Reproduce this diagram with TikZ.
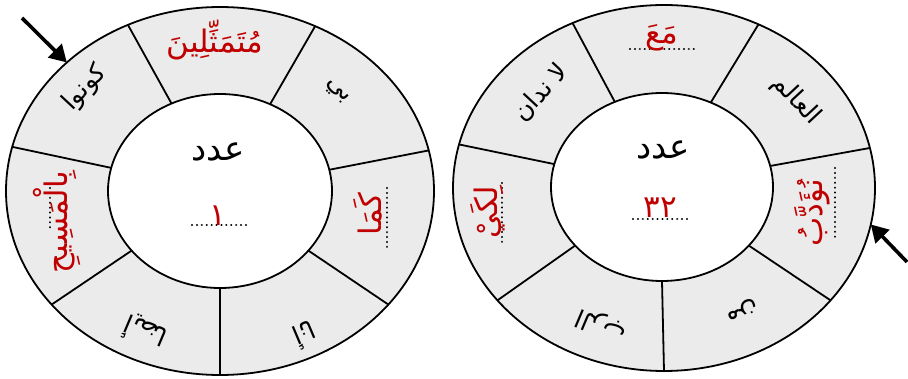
\documentclass[tikz,border=0pt]{standalone}
\usepackage{fontspec}
\newfontfamily\arabicfont[Script=Arabic]{DejaVu Sans}
\TeXXeTstate=1
\usetikzlibrary{arrows.meta,shapes.geometric,positioning}
\definecolor{answerred}{RGB}{192,0,0}
\definecolor{ringfill}{RGB}{235,235,235}
\newcommand{\rtl}[1]{\beginR #1\endR}

\begin{document}
\begin{tikzpicture}[x=1pt,y=-1pt,
  outring/.style={ellipse,draw,line width=1.8pt,fill=ringfill,inner sep=0pt,outer sep=0pt},
  inring/.style={ellipse,draw,line width=1.8pt,fill=white,inner sep=0pt,outer sep=0pt},
  word/.style={font=\arabicfont\fontsize{25}{28}\selectfont,inner sep=0pt},
  answer/.style={inner sep=0pt,text=answerred,font=\arabicfont\fontsize{31}{34}\selectfont},
  title/.style={font=\arabicfont\fontsize{34}{38}\selectfont,inner sep=0pt},
  blank/.style={line width=2.2pt,line cap=round,dash pattern=on 0.1pt off 4.8pt},
  pointer/.style={-{Triangle[length=17pt,width=19pt]},line width=3.6pt}]
\useasboundingbox (0,0) rectangle (908,379);

% left ring
\node[outring,minimum width=428pt,minimum height=368pt] (outL) at (220,191) {};
\node[inring,minimum width=224pt,minimum height=194pt] (inL) at (220,191) {};
\foreach \a in {-90,-34.4,11.1,60.75,119.25,168.9,214.4}
  \draw[line width=1.8pt] (inL.\a) -- (outL.\a);

\node[title] (countL) at (218,152) {\rtl{عدد}};
\draw[blank] (192,225) -- (247,225);
\node[answer,anchor=base] (numL) at (218,226) {١};

\node[answer] (w1L) at (215,40) {\rtl{مُتَمَثِّلِينَ}};
\node[word,rotate=47] (w0L) at (85,88) {\rtl{كونوا}};
\node[word,rotate=-47] (w2L) at (336,92) {\rtl{بي}};
\draw[blank] (387,188) -- (387,248);
\node[answer,rotate=90] (w3L) at (368,214) {\rtl{كَمَا}};
\node[word,rotate=-157] (w4L) at (305,335) {\rtl{أنا}};
\node[word,rotate=157] (w5L) at (145,332) {\rtl{أيضا}};
\draw[blank] (50,188) -- (50,230);
\node[answer,rotate=90] (w6L) at (57,222) {\rtl{بِالْمَسِيحِ}};

\coordinate (tailL) at (22,18);
\draw[pointer] (tailL) -- (outL.140);

% right ring
\node[outring,minimum width=422pt,minimum height=366pt] (outR) at (664,188) {};
\node[inring,minimum width=222pt,minimum height=188pt] (inR) at (662,187) {};
\foreach \a in {-90,-34.4,11.1,60.75,119.25,168.9,214.4}
  \draw[line width=1.8pt] (inR.\a) -- (outR.\a);

\node[title] (countR) at (663,150) {\rtl{عدد}};
\draw[blank] (633,219) -- (688,219);
\node[answer,anchor=base] (numR) at (660,218) {٣٢};

\draw[blank] (630,49) -- (698,49);
\node[answer] (w0R) at (662,38) {\rtl{مَعَ}};
\node[word,rotate=-47] (w1R) at (796,100) {\rtl{العالم}};
\draw[blank] (835,168) -- (835,240);
\node[answer,rotate=90] (w2R) at (812,213) {\rtl{نُؤَدَّبُ}};
\node[word,rotate=-157] (w3R) at (742,310) {\rtl{من}};
\node[word,rotate=157] (w4R) at (601,325) {\rtl{الرب}};
\draw[blank] (502,183) -- (502,242);
\node[answer,rotate=90] (w5R) at (488,212) {\rtl{لِكَيْ}};
\node[word,rotate=47] (w6R) at (541,93) {\rtl{لا ندان}};

\coordinate (tailR) at (907,262);
\draw[pointer] (tailR) -- (outR.-10);
\end{tikzpicture}
\end{document}
